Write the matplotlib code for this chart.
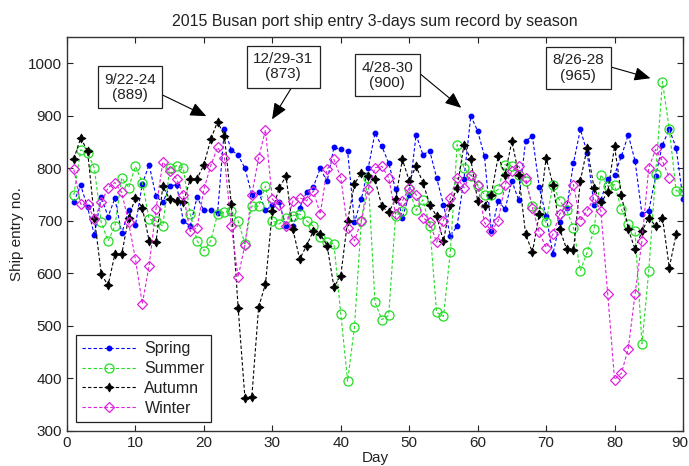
import numpy as np
import matplotlib.pyplot as plt
from matplotlib.transforms import ScaledTranslation

# 3-day sums of ship entries, one value per starting day of the season
spring = [736, 768, 726, 673, 746, 708, 743, 676, 720, 692,
          770, 807, 747, 735, 766, 769, 700, 690, 745, 720,
          720, 715, 875, 835, 825, 800, 750, 755, 720, 730,
          735, 690, 690, 725, 755, 765, 800, 775, 840, 836,
          833, 697, 741, 800, 867, 842, 810, 760, 706, 750,
          864, 826, 833, 782, 731, 672, 690, 780, 900, 871,
          823, 680, 738, 722, 776, 739, 852, 861, 764, 709,
          637, 697, 725, 810, 874, 830, 731, 740, 779, 788,
          823, 864, 814, 713, 719, 785, 845, 874, 839, 741]
summer = [749, 835, 830, 800, 697, 662, 690, 782, 763, 804,
          773, 703, 700, 690, 800, 805, 800, 713, 662, 643,
          662, 713, 716, 719, 700, 656, 728, 728, 766, 700,
          694, 706, 710, 713, 700, 690, 670, 659, 656, 523,
          395, 498, 700, 782, 545, 512, 520, 709, 719, 760,
          720, 740, 690, 526, 518, 640, 845, 801, 785, 766,
          750, 750, 760, 807, 804, 788, 776, 728, 716, 697,
          769, 738, 720, 687, 605, 640, 684, 788, 766, 769,
          722, 694, 681, 466, 605, 790, 965, 874, 757, 757]
autumn = [818, 858, 833, 706, 599, 577, 637, 637, 706, 744,
          725, 662, 659, 766, 741, 738, 735, 779, 780, 807,
          855, 889, 862, 732, 535, 362, 365, 536, 580, 719,
          763, 785, 684, 627, 653, 681, 675, 653, 574, 596,
          700, 770, 792, 785, 779, 728, 716, 741, 817, 776,
          804, 773, 731, 709, 662, 731, 763, 845, 817, 738,
          728, 750, 823, 788, 852, 788, 675, 640, 713, 820,
          769, 684, 646, 644, 776, 839, 763, 735, 754, 842,
          750, 684, 646, 680, 706, 690, 706, 611, 675]
winter = [798, 732, 732, 703, 735, 763, 773, 754, 697, 627,
          542, 615, 722, 812, 795, 780, 750, 680, 687, 760,
          805, 840, 820, 690, 593, 655, 750, 820, 873, 741,
          731, 690, 738, 744, 738, 757, 713, 798, 817, 782,
          687, 662, 700, 760, 801, 804, 782, 713, 738, 763,
          750, 706, 697, 659, 700, 744, 782, 763, 788, 769,
          697, 681, 700, 769, 795, 804, 782, 725, 678, 649,
          675, 713, 731, 769, 700, 719, 744, 719, 561, 398,
          410, 457, 561, 662, 801, 836, 814, 782]

# peak annotations: (label, series, day)
peaks = [('9/22-24', autumn, 22),
         ('12/29-31', winter, 29),
         ('4/28-30', spring, 59),
         ('8/26-28', summer, 87)]

plt.rcParams['font.family'] = ['Liberation Sans', 'DejaVu Sans']
plt.rcParams['font.size'] = 11

fig = plt.figure(figsize=(6.89, 4.66), dpi=100)
ax = fig.add_axes([67/689, 35/466, 616/689, 394/466])

dash = (0, (3, 2))
ax.plot(np.arange(1, len(spring)+1), spring, color='#0000ff', ls=dash, lw=0.8,
        marker='o', ms=3.2, mfc='#0000ff', mec='#0000ff', label='Spring')
ax.plot(np.arange(1, len(summer)+1), summer, color='#22dd22', ls=dash, lw=0.8,
        marker='o', ms=6.5, mfc='none', mec='#22dd22', mew=0.9, label='Summer')
ax.plot(np.arange(1, len(autumn)+1), autumn, color='black', ls=dash, lw=0.8,
        marker=(4, 1, 0), ms=6.5, mfc='black', mec='black', mew=0.6, label='Autumn')
ax.plot(np.arange(1, len(winter)+1), winter, color='#dd22dd', ls=dash, lw=0.8,
        marker='D', ms=5.5, mfc='none', mec='#dd22dd', mew=0.9, label='Winter')

# text box centre and arrow start (relpos) for each annotation
text_pos = [(9.2, 954), (31.6, 993), (46.8, 977), (74.7, 991)]
rel_pos = [(1.0, 0.35), (0.7, 0.0), (1.0, 0.75), (1.0, 0.6)]
for (label, series, day), tp, rp in zip(peaks, text_pos, rel_pos):
    ax.annotate(f'{label}\n({series[day-1]})', xy=(day, series[day-1]),
                xytext=tp, ha='center', va='center', fontsize=11,
                linespacing=1.1, color='#222222',
                bbox=dict(boxstyle='square,pad=0.42', fc='white', ec='#222222', lw=0.9),
                arrowprops=dict(arrowstyle='-|>,head_length=0.7,head_width=0.3',
                                color='black', lw=0.8, mutation_scale=14,
                                relpos=rp, shrinkA=0, shrinkB=9))

ax.set_xlim(0, 90)
ax.set_ylim(300, 1050)
ax.set_xticks(np.arange(0, 91, 10))
ax.set_yticks(np.arange(300, 1001, 100))
ax.tick_params(direction='in', top=True, right=True, length=4, width=0.8,
               labelsize=11, colors='#222222')
for s in ax.spines.values():
    s.set_linewidth(1.0)
    s.set_color('#333333')

# nudge the last x tick label so it stays inside the figure
last = ax.get_xticklabels()[-1]
last.set_transform(last.get_transform() + ScaledTranslation(-3/100, 0, fig.dpi_scale_trans))

ax.set_title('2015 Busan port ship entry 3-days sum record by season',
             fontsize=11.5, pad=8, color='#222222')
ax.set_xlabel('Day', fontsize=11, labelpad=1, color='#222222')
ax.set_ylabel('Ship entry no.', fontsize=11, labelpad=3, color='#222222')

leg = ax.legend(loc='lower left', handlelength=3.4, fancybox=False,
                framealpha=1, edgecolor='#222222', borderaxespad=0.55,
                labelspacing=0.3, handletextpad=0.5, fontsize=11.5)
leg.get_frame().set_linewidth(0.9)
for t in leg.get_texts():
    t.set_color('#222222')

fig.savefig('out.png', dpi=100)
